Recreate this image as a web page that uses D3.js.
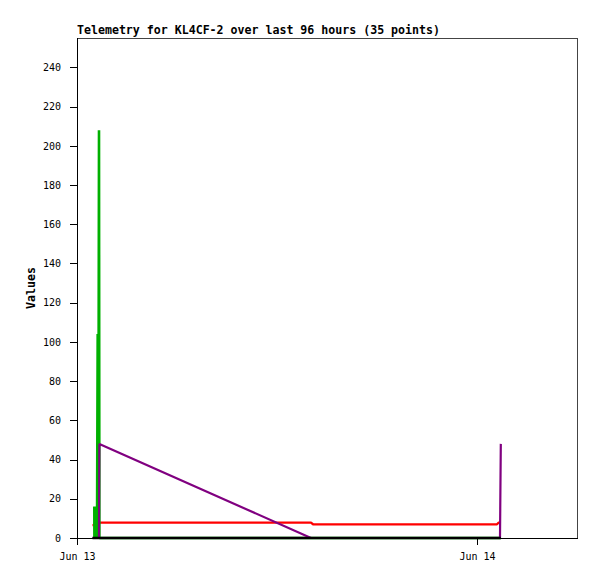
<!DOCTYPE html>
<html><head><meta charset="utf-8">
<script src="https://cdn.jsdelivr.net/npm/d3@7"></script>
<style>html,body{margin:0;padding:0;background:#fff;}svg{display:block;}</style>
</head><body>
<script>
// ---- data (times in minutes after Jun 13 00:00) ----
const titleText = "Telemetry for KL4CF-2 over last 96 hours (35 points)";
const yLabel = "Values";
const yTickValues = [0,20,40,60,80,100,120,140,160,180,200,220,240];
const xTickLabels = ["Jun 13", "Jun 14"];
const xTickMinutes = [0, 1440];
const minutes = [55.8,
  62.3,62.6,62.9,63.3,63.6,63.9,64.2,64.6,64.9,65.2,65.6,65.9,66.2,66.5,66.9,67.2,67.5,67.8,68.2,68.5,68.8,69.2,69.5,
  72.0,74.5,76.7,79.2,80.6,
  842.4,849.6,
  1512,1517.4,1522.8,1525.7];
const greenVals = [null,
  16,0,16,0,16,0,16,0,16,0,16,0,16,0,16,0,16,0,16,0,16,0,16,
  0,104,0,208,0,
  0,0,
  0,0,0,0];
const redVals = [6.6,
  6.6,6.6,6.6,7.8,7.8,7.8,7.8,7.8,7.8,7.8,7.8,7.8,7.8,7.8,7.8,7.8,7.8,7.8,7.8,7.8,7.8,7.8,7.8,
  7.8,7.8,7.8,7.8,7.8,
  7.8,7.0,
  7.0,7.8,7.8,7.8];
const purpleVals = [0,
  0,0,0,0,0,0,0,0,0,0,0,0,0,0,0,0,0,0,0,0,0,0,0,
  0,0,0,0,48,
  0,0,
  0,0,0,48];
const blackVals = [0,
  0,0,0,0,0,0,0,0,0,0,0,0,0,0,0,0,0,0,0,0,0,0,0,
  0,0,0,0,0,
  0,0,
  0,0,0,0];
const domainMinutes = [0, 1800];
const yDomain = [0, 255];

// ---- drawing ----
const W = 597, H = 579;
const svg = d3.select("body").append("svg").attr("width", W).attr("height", H);
const base = Date.UTC(2023, 5, 13, 0, 0, 0);
const toDate = m => new Date(base + m * 60000);
const x = d3.scaleUtc().domain(domainMinutes.map(toDate)).range([77, 577]);
const y = d3.scaleLinear().domain(yDomain).range([538, 38]);

// frame top/right
svg.append("path").attr("d", "M77.5,38.5H577.5V538.5").attr("fill", "none")
  .attr("stroke", "#444").attr("stroke-width", 1).attr("shape-rendering", "crispEdges");

const series = [
  {vals: redVals, color: "#ff0000", w: 2.3},
  {vals: greenVals, color: "#00b000", w: 2.6},
  {vals: purpleVals, color: "#800080", w: 2.2},
  {vals: blackVals, color: "#000000", w: 2.4}
];
const g = svg.append("g");
series.forEach(s => {
  const pts = minutes.map((m, i) => ({t: toDate(m), v: s.vals[i]}));
  const line = d3.line().defined(d => d.v !== null).x(d => x(d.t)).y(d => y(d.v));
  g.append("path").attr("d", line(pts)).attr("fill", "none")
    .attr("stroke", s.color).attr("stroke-width", s.w)
    .attr("stroke-linejoin", "miter").attr("stroke-miterlimit", 1);
});

const mono = "'DejaVu Sans Mono', 'Liberation Mono', monospace";
// y axis
const yAxis = d3.axisLeft(y).tickValues(yTickValues).tickSize(7).tickSizeOuter(0).tickPadding(9)
  .tickFormat(d3.format("d"));
const ya = svg.append("g").attr("transform", "translate(77,0)").call(yAxis);
ya.select(".domain").remove();
ya.selectAll("line").attr("stroke", "#000").attr("shape-rendering", "crispEdges");
ya.selectAll("text").attr("font-family", mono).attr("font-size", "10px").attr("fill", "#000");
svg.append("line").attr("x1", 77.5).attr("x2", 77.5).attr("y1", 38).attr("y2", 539)
  .attr("stroke", "#000").attr("shape-rendering", "crispEdges");

// x axis
const xAxis = d3.axisBottom(x).tickValues(xTickMinutes.map(toDate)).tickSize(7).tickSizeOuter(0).tickPadding(9)
  .tickFormat((d, i) => xTickLabels[i]);
const xa = svg.append("g").attr("transform", "translate(0,538)").call(xAxis);
xa.select(".domain").remove();
xa.selectAll("line").attr("stroke", "#000").attr("shape-rendering", "crispEdges");
xa.selectAll("text").attr("font-family", mono).attr("font-size", "10px").attr("fill", "#000")
  .attr("dy", null).attr("y", 22);
svg.append("line").attr("x1", 77).attr("x2", 578).attr("y1", 538.5).attr("y2", 538.5)
  .attr("stroke", "#000").attr("shape-rendering", "crispEdges");

// title
svg.append("text").attr("x", 77).attr("y", 34).text(titleText)
  .attr("font-family", mono).attr("font-weight", "bold").attr("font-size", "11.6px").attr("fill", "#000");
// y label
svg.append("text").attr("transform", "translate(35,288) rotate(-90)").attr("text-anchor", "middle")
  .text(yLabel).attr("font-family", mono).attr("font-weight", "bold").attr("font-size", "11.6px").attr("fill", "#000");
</script>
</body></html>
